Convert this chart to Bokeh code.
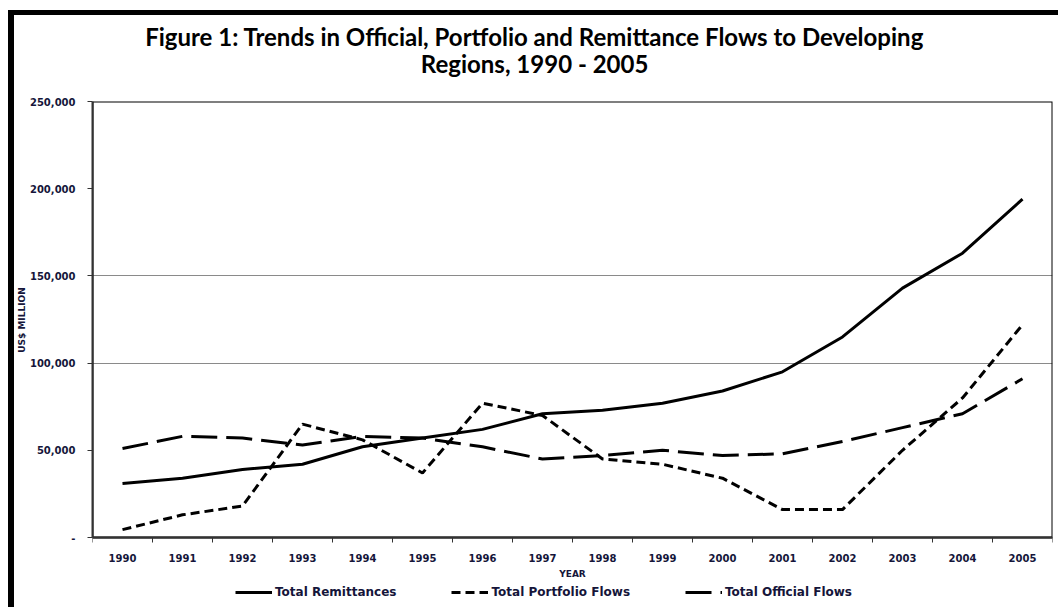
from bokeh.plotting import figure
from bokeh.models import (Range1d, FixedTicker, CustomJSTickFormatter, Legend,
                          LegendItem, Title)
from bokeh.embed import file_html
from bokeh.resources import INLINE

# ---- data (US$ million) ----
years = list(range(1990, 2006))
remittances = [31000, 34000, 39000, 42000, 52000, 57000, 62000, 71000,
               73000, 77000, 84000, 95000, 115000, 143000, 163000, 194000]
portfolio = [4500, 13000, 18000, 65000, 56000, 37000, 77000, 70000,
             45000, 42000, 34000, 16000, 16000, 50000, 80000, 122000]
official = [51000, 58000, 57000, 53000, 58000, 57000, 52000, 45000,
            47000, 50000, 47000, 48000, 55000, 63000, 71000, 91000]
y_ticks = [0, 50000, 100000, 150000, 200000, 250000]
grid_ticks = [100000, 150000]
series_names = ["Total Remittances", "Total Portfolio Flows", "Total Official Flows"]
title_line1 = "Figure 1: Trends in Official, Portfolio and Remittance Flows to Developing"
title_line2 = "Regions, 1990 - 2005"
y_title = "US$ MILLION"

TICK_FONT = "DejaVu Sans"
TITLE_FONT = "Lato"
NBSP = "\u00a0"

# layout (pixels): plotting box height and the room kept under it for
# the x-axis labels and the legend
PLOT_H = 436
PAD_H = 70
x_lo, x_hi = years[0] - 0.5, years[-1] + 0.5
y_top = y_ticks[-1]
y_bottom = -y_top * PAD_H / PLOT_H

p = figure(frame_width=960, frame_height=PLOT_H + PAD_H, output_backend="svg",
           toolbar_location=None,
           x_range=Range1d(x_lo, x_hi), y_range=Range1d(y_bottom, y_top),
           min_border_left=78, min_border_right=6, min_border_top=86,
           min_border_bottom=0,
           background_fill_color="white", border_fill_color="white",
           styles={"margin-left": "8px", "margin-top": "10px",
                   "border-left": "6px solid black", "border-top": "5px solid black"})

p.title.visible = False
p.outline_line_color = None

# trailing no-break spaces move the centred titles a little to the left
spacer = Title(text=" ", text_font_size="1px", standoff=21)
t2 = Title(text=title_line2 + NBSP * 13, align="center", text_font=TITLE_FONT,
           text_font_size="24px", text_font_style="bold", text_color="black",
           standoff=0)
t1 = Title(text=title_line1 + NBSP * 13, align="center", text_font=TITLE_FONT,
           text_font_size="24px", text_font_style="bold", text_color="black",
           standoff=-8)
p.add_layout(spacer, "above")
p.add_layout(t2, "above")
p.add_layout(t1, "above")

# y-axis title (leading no-break spaces lift it to the middle of the box)
yt = Title(text=NBSP * 22 + y_title, align="center", text_font=TICK_FONT,
           text_font_size="9px", text_font_style="bold", text_color="#15153a",
           standoff=0)
p.add_layout(yt, "left")

# plotting box (black frame around the data area)
p.quad(left=[x_lo], right=[x_hi], bottom=[y_ticks[0]], top=[y_top],
       fill_alpha=0, line_color="black", line_width=2)

p.xgrid.visible = False
p.ygrid.ticker = FixedTicker(ticks=grid_ticks, minor_ticks=[])
p.ygrid.grid_line_color = "#8a8a8a"
p.ygrid.grid_line_width = 1

# x axis: placed at y = 0, labels at year centres, tick marks at boundaries
xt = FixedTicker(ticks=years, minor_ticks=[y - 0.5 for y in years] + [x_hi])
p.xaxis.fixed_location = y_ticks[0]
p.xaxis.ticker = xt
p.xaxis.major_label_overrides = {y: str(y) for y in years}
p.xaxis.major_tick_out = 0
p.xaxis.major_tick_in = 0
p.xaxis.minor_tick_out = 5
p.xaxis.minor_tick_in = 0
p.xaxis.minor_tick_line_color = "#333333"
p.xaxis.axis_line_color = "#333333"
p.xaxis.axis_line_width = 2
p.xaxis.major_label_standoff = 11
p.xaxis.major_label_text_font = TICK_FONT
p.xaxis.major_label_text_font_size = "10px"
p.xaxis.major_label_text_font_style = "bold"
p.xaxis.major_label_text_color = "#15153a"
p.xaxis.axis_label = "YEAR"
p.xaxis.axis_label_text_font = TICK_FONT
p.xaxis.axis_label_text_font_size = "9px"
p.xaxis.axis_label_text_font_style = "bold"
p.xaxis.axis_label_text_color = "#15153a"
p.xaxis.axis_label_standoff = 4

# y axis
p.yaxis.bounds = (y_ticks[0], y_top)
p.yaxis.ticker = FixedTicker(ticks=y_ticks, minor_ticks=[])
p.yaxis.formatter = CustomJSTickFormatter(
    code="return tick == 0 ? '-' : tick.toLocaleString('en-US');")
p.yaxis.major_tick_out = 5
p.yaxis.major_tick_in = 0
p.yaxis.minor_tick_out = 0
p.yaxis.minor_tick_in = 0
p.yaxis.major_tick_line_color = "#333333"
p.yaxis.axis_line_color = "#333333"
p.yaxis.axis_line_width = 2
p.yaxis.major_label_standoff = 12
p.yaxis.major_label_text_font = TICK_FONT
p.yaxis.major_label_text_font_size = "10px"
p.yaxis.major_label_text_font_style = "bold"
p.yaxis.major_label_text_color = "#15153a"

r1 = p.line(years, remittances, line_color="black", line_width=3)
r2 = p.line(years, portfolio, line_color="black", line_width=3, line_dash="9 5")
r3 = p.line(years, official, line_color="black", line_width=3, line_dash="26 9")

legend = Legend(items=[LegendItem(label=series_names[0], renderers=[r1]),
                       LegendItem(label=series_names[1], renderers=[r2]),
                       LegendItem(label=series_names[2], renderers=[r3])],
                orientation="horizontal", location=(143, 8),
                border_line_color=None, background_fill_alpha=0,
                label_text_font=TICK_FONT, label_text_font_size="12px",
                label_text_font_style="bold", label_text_color="#15153a",
                glyph_width=37, glyph_height=14, label_height=14,
                label_standoff=3, spacing=55, padding=0, margin=0)
p.add_layout(legend, "center")

open("out.html", "w").write(file_html(p, INLINE))
